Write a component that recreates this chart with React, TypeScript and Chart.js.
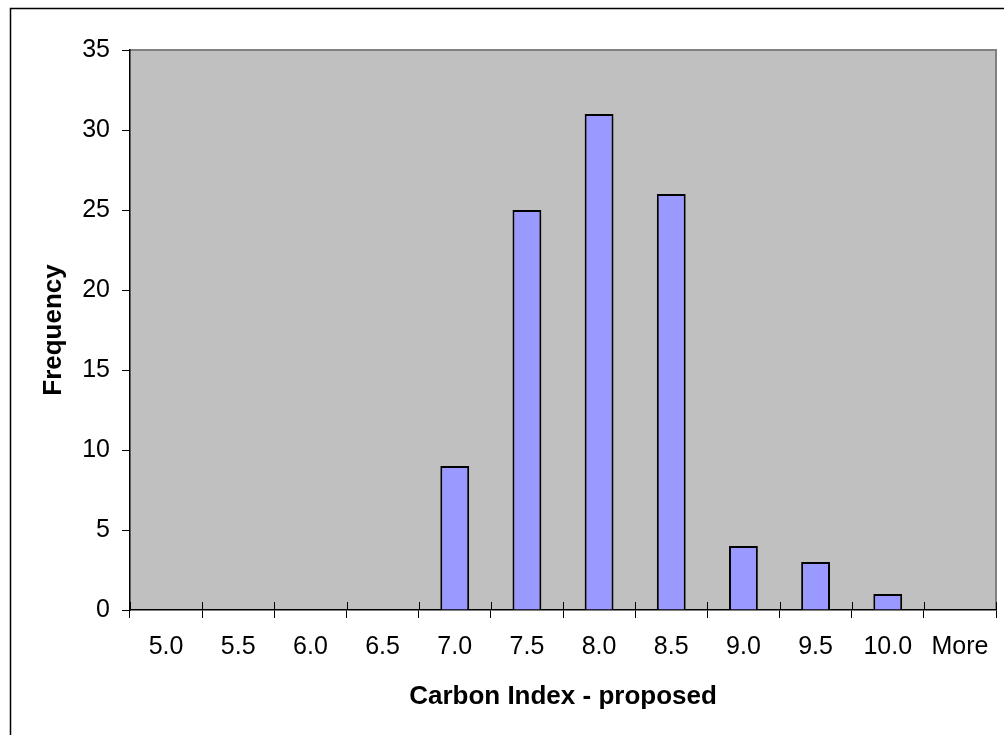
import React, { useEffect, useRef } from "react";
import { Chart, registerables } from "chart.js";

Chart.register(...registerables);

const categories = ["5.0", "5.5", "6.0", "6.5", "7.0", "7.5", "8.0", "8.5", "9.0", "9.5", "10.0", "More"];
const frequency = [0, 0, 0, 0, 9, 25, 31, 26, 4, 3, 1, 0];
const yMax = 35;
const yStep = 5;
const xTitle = "Carbon Index - proposed";
const yTitle = "Frequency";

const FONT = "'Liberation Sans', Arial, sans-serif";

const decorPlugin = {
  id: "decor",
  beforeDraw(chart: any) {
    const { ctx, chartArea, width, height } = chart;
    ctx.save();
    ctx.fillStyle = "#ffffff";
    ctx.fillRect(0, 0, width, height);
    ctx.strokeStyle = "#000000";
    ctx.lineWidth = 1.5;
    ctx.strokeRect(10.5, 8.5, width + 100, height + 100);
    ctx.fillStyle = "#C0C0C0";
    ctx.fillRect(chartArea.left, chartArea.top, chartArea.right - chartArea.left, chartArea.bottom - chartArea.top);
    ctx.strokeStyle = "#808080";
    ctx.lineWidth = 2;
    ctx.beginPath();
    ctx.moveTo(chartArea.left, chartArea.top);
    ctx.lineTo(chartArea.right, chartArea.top);
    ctx.lineTo(chartArea.right, chartArea.bottom);
    ctx.stroke();
    ctx.restore();
  },
  afterDatasetsDraw(chart: any) {
    const { ctx } = chart;
    const xs = chart.scales.x;
    const n = xs.getLabels().length;
    const step = (xs.right - xs.left) / n;
    ctx.save();
    ctx.strokeStyle = "#000000";
    ctx.lineWidth = 1;
    ctx.beginPath();
    for (let i = 0; i <= n; i++) {
      const x = Math.round(xs.left + i * step) + 0.5;
      ctx.moveTo(x, xs.top - 8);
      ctx.lineTo(x, xs.top);
    }
    ctx.stroke();
    ctx.restore();
  },
};

export default function App() {
  const ref = useRef<HTMLCanvasElement>(null);

  useEffect(() => {
    if (!ref.current) return;
    const chart = new Chart(ref.current, {
      type: "bar",
      data: {
        labels: categories,
        datasets: [
          {
            label: yTitle,
            data: frequency,
            backgroundColor: "#9999FF",
            borderColor: "#000000",
            borderWidth: 2,
            categoryPercentage: 1,
            barPercentage: 0.4,
          },
        ],
      },
      plugins: [decorPlugin],
      options: {
        animation: false,
        responsive: true,
        maintainAspectRatio: false,
        layout: { padding: { left: 36, top: 50, right: 8, bottom: 20 } },
        plugins: {
          legend: { display: false },
          tooltip: { enabled: false },
        },
        scales: {
          x: {
            offset: true,
            afterFit: (s: any) => {
              s.height = 105;
            },
            grid: {
              offset: true,
              display: true,
              drawOnChartArea: false,
              drawTicks: true,
              tickLength: 8,
              color: "#000000",
              lineWidth: 1,
            },
            border: { display: true, color: "#000000", width: 1.5 },
            ticks: {
              color: "#000000",
              padding: 14,
              maxRotation: 0,
              autoSkip: false,
              font: { family: FONT, size: 25 },
            },
            title: {
              display: true,
              text: xTitle,
              color: "#000000",
              padding: { top: 0, bottom: 3 },
              font: { family: FONT, size: 26, weight: "bold" },
            },
          },
          y: {
            min: 0,
            max: yMax,
            afterFit: (s: any) => {
              s.width = 94;
            },
            grid: {
              display: true,
              drawOnChartArea: false,
              drawTicks: true,
              tickLength: 8,
              color: "#000000",
              lineWidth: 1,
            },
            border: { display: true, color: "#000000", width: 1.5 },
            ticks: {
              stepSize: yStep,
              color: "#000000",
              padding: 12,
              font: { family: FONT, size: 25 },
            },
            title: {
              display: true,
              text: yTitle,
              color: "#000000",
              padding: { top: 2, bottom: 0 },
              font: { family: FONT, size: 26, weight: "bold" },
            },
          },
        },
      },
    });
    return () => chart.destroy();
  }, []);

  return (
    <div style={{ position: "absolute", left: 0, top: 0, width: 1004, height: 735 }}>
      <canvas ref={ref} />
    </div>
  );
}
